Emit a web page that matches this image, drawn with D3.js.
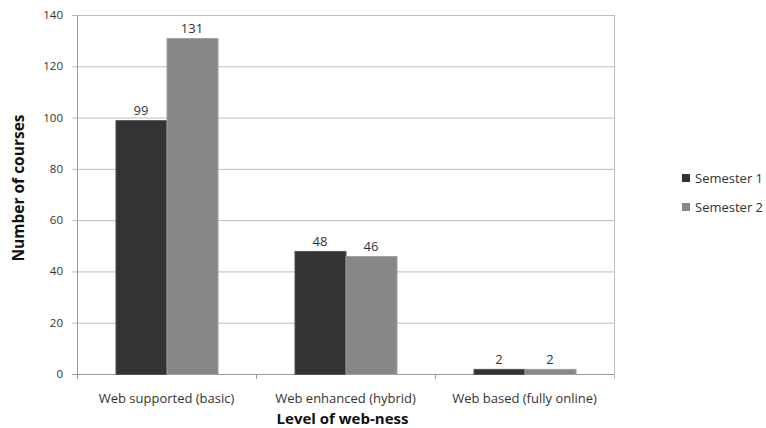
<!DOCTYPE html>
<html>
<head>
<meta charset="utf-8">
<script src="https://cdn.jsdelivr.net/npm/d3@7"></script>
<style>
  body { margin: 0; background: #fff; overflow: hidden; }
  text { font-family: "Open Sans", "Noto Sans", sans-serif; fill: #333; }
</style>
</head>
<body>
<script>
const Width = 766;
const Height = 428;

const margin = { left: 77, right: 152, top: 15, bottom: 54 };
const innerWidth = Width - margin.left - margin.right;
const innerHeight = Height - margin.top - margin.bottom;

// data
const categories = ["Web supported (basic)", "Web enhanced (hybrid)", "Web based (fully online)"];
const seriesNames = ["Semester 1", "Semester 2"];
const semester1 = [99, 48, 2];
const semester2 = [131, 46, 2];
const yTicks = [0, 20, 40, 60, 80, 100, 120, 140];

const colors = ["#333333", "#878787"];
const strokes = ["#555555", "#a0a0a0"];

const rows = categories.map((c, i) => ({ cat: c, values: [semester1[i], semester2[i]] }));

const svg = d3.select("body").append("svg")
  .attr("width", Width)
  .attr("height", Height);

const g = svg.append("g")
  .attr("transform", `translate(${margin.left},${margin.top})`);

const xScale = d3.scaleBand().domain(categories).range([0, innerWidth]).padding(0);
const bw = xScale.bandwidth();
const x1 = d3.scaleBand().domain(seriesNames).range([bw * 0.215, bw * 0.785]).padding(0);
const yScale = d3.scaleLinear().domain([0, 140]).range([innerHeight, 0]);

// gridlines
g.selectAll(".grid").data(yTicks).join("line")
  .attr("x1", -5).attr("x2", innerWidth)
  .attr("y1", d => yScale(d) + 0.5).attr("y2", d => yScale(d) + 0.5)
  .attr("stroke", d => d === 0 ? "#999" : "#bdbdbd")
  .attr("stroke-width", 1);

// frame lines
g.append("line").attr("x1", 0.5).attr("x2", 0.5).attr("y1", 0).attr("y2", innerHeight + 5)
  .attr("stroke", "#999");
g.append("line").attr("x1", innerWidth + 0.5).attr("x2", innerWidth + 0.5).attr("y1", 0).attr("y2", innerHeight + 5)
  .attr("stroke", "#bdbdbd");

// x tick marks at category boundaries
g.selectAll(".xtick").data(categories.slice(1)).join("line")
  .attr("x1", d => Math.round(xScale(d)) + 0.5).attr("x2", d => Math.round(xScale(d)) + 0.5)
  .attr("y1", innerHeight).attr("y2", innerHeight + 5)
  .attr("stroke", "#999");

// y tick labels
g.selectAll(".ylab").data(yTicks).join("text")
  .attr("x", -14).attr("y", d => yScale(d))
  .attr("dy", "0.35em")
  .attr("text-anchor", "end")
  .style("font-size", "11.5px")
  .text(d => d);

// bars
const groups = g.selectAll(".group").data(rows).join("g")
  .attr("transform", d => `translate(${xScale(d.cat)},0)`);

groups.selectAll("rect").data(d => d.values.map((v, i) => ({ key: seriesNames[i], v, i })))
  .join("rect")
  .attr("x", d => x1(d.key) + 0.5)
  .attr("y", d => yScale(d.v) + 0.5)
  .attr("width", x1.bandwidth())
  .attr("height", d => innerHeight - yScale(d.v))
  .attr("fill", d => colors[d.i])
  .attr("stroke", d => strokes[d.i])
  .attr("stroke-width", 1);

groups.selectAll(".val").data(d => d.values.map((v, i) => ({ key: seriesNames[i], v, i })))
  .join("text")
  .attr("x", d => x1(d.key) + x1.bandwidth() / 2)
  .attr("y", d => yScale(d.v) - 5)
  .attr("text-anchor", "middle")
  .style("font-size", "13px")
  .text(d => d.v);

// x labels
g.selectAll(".xlab").data(categories).join("text")
  .attr("x", d => xScale(d) + bw / 2)
  .attr("y", innerHeight + 29)
  .attr("text-anchor", "middle")
  .style("font-size", "13px")
  .text(d => d);

// axis titles
svg.append("text")
  .attr("x", margin.left + innerWidth / 2 - 3)
  .attr("y", 424)
  .attr("text-anchor", "middle")
  .style("font-size", "15px")
  .style("font-weight", "bold")
  .style("fill", "#111")
  .text("Level of web-ness");

svg.append("text")
  .attr("transform", `translate(24,188) rotate(-90)`)
  .attr("text-anchor", "middle")
  .style("font-size", "15.5px")
  .style("font-weight", "bold")
  .style("fill", "#111")
  .text("Number of courses");

// legend
const legend = svg.append("g").attr("transform", "translate(682,173)");
const li = legend.selectAll("g").data(seriesNames).join("g")
  .attr("transform", (d, i) => `translate(0,${i * 29})`);
li.append("rect").attr("width", 8).attr("height", 8).attr("y", 1)
  .attr("fill", (d, i) => colors[i]);
li.append("text").attr("x", 13).attr("y", 5).attr("dy", "0.35em")
  .style("font-size", "13px")
  .text(d => d);
</script>
</body>
</html>
